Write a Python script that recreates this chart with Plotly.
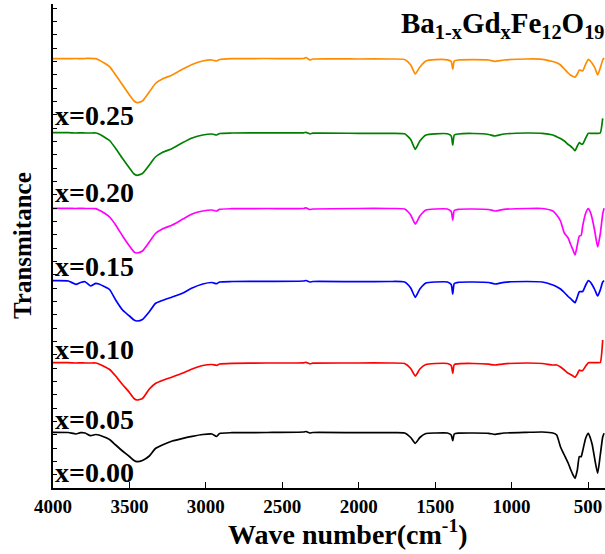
import plotly.graph_objects as go

# Wavenumber grid (cm^-1)
wavenumber = [4000, 3900, 3850, 3820, 3790, 3755, 3720, 3700, 3665, 3630, 3590, 3545, 3500, 3470, 3450,
              3415, 3370, 3330, 3285, 3220, 3150, 3090, 3020, 2960, 2930, 2910, 2830, 2600, 2360, 2345,
              2320, 2300, 2000, 1800, 1700, 1660, 1630, 1600, 1560, 1500, 1420, 1395, 1385, 1375, 1350,
              1250, 1150, 1110, 1050, 900, 800, 730, 705, 680, 655, 630, 615, 598, 585, 570,
              557, 545, 535, 515, 498, 485, 472, 455, 437, 420, 404, 395]

# Transmittance (arbitrary units, curves offset vertically)
t_x025 = [441.3, 441.3, 441.5, 441.3, 441.5, 441.7, 441.3, 440, 437, 433.3, 425, 415, 405, 399, 397.3,
          399, 408, 416.5, 421, 425, 431, 435.5, 439, 440, 439, 440.5, 441.3, 441.5, 441.5, 442.5,
          440, 441, 441, 441, 440.5, 435, 426, 433, 439, 440.3, 440.2, 438.5, 430.7, 439, 440,
          440.3, 440, 438.7, 440, 441, 440.7, 438.5, 437.3, 435, 431, 427, 425, 423.5, 422.7, 426,
          430, 429.5, 429, 436, 440.7, 439, 436.5, 432, 425, 432, 440, 442]
t_x020 = [367.3, 367.3, 367, 367.2, 367, 367, 367, 366, 363, 359.5, 351.5, 341.5, 332, 326, 324.7,
          326.5, 335, 343, 347.5, 351.5, 357.5, 362, 365, 366, 365, 366.5, 367, 367.2, 367.2, 367.7,
          366.2, 366.8, 366.7, 366.7, 366.2, 360.5, 350.7, 359, 365, 366.2, 366.2, 364, 355, 365, 366,
          366.5, 365.5, 364, 366, 367, 366.7, 365, 363.3, 361.5, 359, 355.5, 354, 351.5, 349.3, 354,
          357.3, 356, 356, 362, 366.7, 366.7, 366.7, 366.7, 366.7, 367, 381.7, None]
t_x015 = [291.7, 291.7, 291.5, 291.7, 291.5, 291.5, 291.3, 290, 287, 283, 275, 264, 254, 248, 247,
          249, 258, 266.5, 271, 275, 281, 286, 289, 290, 289, 290.7, 291.3, 291.5, 291.5, 292.2,
          290.5, 291, 291.5, 291.5, 291, 285, 276, 284, 290, 291, 291, 288.5, 280, 289.5, 290.7,
          291, 290.5, 289, 290.7, 291.5, 291.5, 289, 285, 279, 267, 262, 256, 250, 245, 255,
          264, 264.5, 274, 287, 291.5, 288, 281, 268, 253, 266, 286, 291.7]
t_x010 = [219.3, 219, 215.7, 217.5, 218.3, 214, 216.7, 216, 213.5, 210.5, 200, 190, 184, 180, 179,
          180.5, 188.3, 196.5, 199.5, 203, 207, 212, 216, 217.5, 216.3, 218, 218.5, 218.7, 219, 219.5,
          218, 218.5, 218.3, 218.5, 218, 212, 202.7, 211, 217, 218, 218, 215.5, 206, 216.5, 217.7,
          218, 217.5, 216, 217.7, 218.5, 218, 215, 213.3, 211, 207.5, 203.5, 201.5, 199, 197.3, 203,
          208.3, 208.3, 208.5, 215, 219.3, 218, 215, 210, 204, 210, 218, 219.3]
t_x005 = [137.3, 137.3, 137, 137.2, 137, 137, 137, 136, 133.5, 130.5, 124, 115.5, 107.5, 101.5, 100,
          101.5, 111, 116.5, 119.5, 123, 127, 131, 134.5, 135.5, 134.7, 136, 136.7, 137, 137.2, 137.7,
          136.2, 136.8, 137, 137, 136.5, 131.5, 124, 131, 135.5, 136.5, 136.5, 134.5, 126.7, 135.5, 136.2,
          136.5, 135.8, 135, 136.2, 137, 136.5, 135, 135, 133, 130, 126.7, 125.5, 124, 122.7, 126,
          130, 129.3, 129.5, 134, 137.3, 137.3, 137.3, 137.3, 137.3, 137.5, 160, None]
t_x000 = [67.7, 67.5, 66, 67.3, 67, 64.3, 65.5, 65, 63, 60.5, 55, 49, 43.5, 39.5, 38.3,
          39.5, 44, 51.5, 55, 59, 61.7, 63.7, 65.5, 66, 63.5, 66.5, 67.3, 67.5, 68, 68.5,
          67, 67.5, 67.3, 67.3, 67, 62.5, 56.7, 62.5, 66.5, 67, 67, 65, 59.3, 66, 66.8,
          67, 66.7, 65.7, 67, 67.7, 68, 67, 65, 53, 45, 37, 31, 25, 21.7, 30,
          43.3, 43.3, 49, 62, 66.7, 62, 55, 40, 26.7, 45, 63, 66.7]

series = [
    ("x=0.25", t_x025, "#FF8C00", 384.5),
    ("x=0.20", t_x020, "#008000", 308),
    ("x=0.15", t_x015, "#FF00FF", 234),
    ("x=0.10", t_x010, "#0000FF", 151),
    ("x=0.05", t_x005, "#FF0000", 81),
    ("x=0.00", t_x000, "#000000", 28),
]

SERIF = "Liberation Serif, Times New Roman, serif"

fig = go.Figure()
for name, vals, color, _ in series:
    fig.add_trace(go.Scatter(x=wavenumber, y=vals, mode="lines", name=name,
                             line=dict(color=color, width=1.7, shape="spline", smoothing=0.5),
                             connectgaps=False, showlegend=False))

annotations = []
for name, _, _, ypos in series:
    annotations.append(dict(x=4000, y=ypos, xref="x", yref="y", text=name, showarrow=False,
                            xanchor="left", yanchor="middle", xshift=0,
                            font=dict(family=SERIF, size=28, color="black", weight="bold")))

annotations.append(dict(x=1, y=475, xref="paper", yref="y",
                        text="Ba<sub>1-x</sub>Gd<sub>x</sub>Fe<sub>12</sub>O<sub>19</sub>",
                        showarrow=False, xanchor="right", yanchor="middle", xshift=1,
                        font=dict(family=SERIF, size=29, color="black", weight="bold")))
annotations.append(dict(x=(348 - 53) / 552, y=-0.092, xref="paper", yref="paper",
                        text="Wave number(cm<sup>-1</sup>)", showarrow=False,
                        xanchor="center", yanchor="middle",
                        font=dict(family=SERIF, size=28, color="black", weight="bold")))
annotations.append(dict(x=(22 - 53) / 552, y=0.50, xref="paper", yref="paper",
                        text="Transmitance", showarrow=False, textangle=-90,
                        xanchor="center", yanchor="middle",
                        font=dict(family=SERIF, size=25, color="black", weight="bold")))

fig.update_layout(
    width=605, height=554,
    margin=dict(l=53, r=0, t=4, b=66),
    paper_bgcolor="white", plot_bgcolor="white",
    annotations=annotations,
    xaxis=dict(range=[4000, 389], tickmode="linear", tick0=500, dtick=500,
               ticks="inside", ticklen=6, tickwidth=1.3, tickcolor="black",
               showline=True, linecolor="black", linewidth=1.5, showgrid=False, zeroline=False,
               tickfont=dict(family=SERIF, size=19, color="black", weight="bold")),
    xaxis2=dict(range=[4000, 389], overlaying="x", side="top", anchor="y",
                tickmode="linear", tick0=500, dtick=250, ticks="inside", ticklen=4,
                tickwidth=1, tickcolor="black", showticklabels=False,
                showline=True, linecolor="black", linewidth=1.5, showgrid=False, zeroline=False),
    yaxis=dict(range=[12, 496], tickmode="linear", tick0=12, dtick=13.33,
               ticks="inside", ticklen=4, tickwidth=1, tickcolor="black",
               showticklabels=False, showline=True, linecolor="black", linewidth=1.5,
               showgrid=False, zeroline=False),
)

fig.write_html("out.html")
